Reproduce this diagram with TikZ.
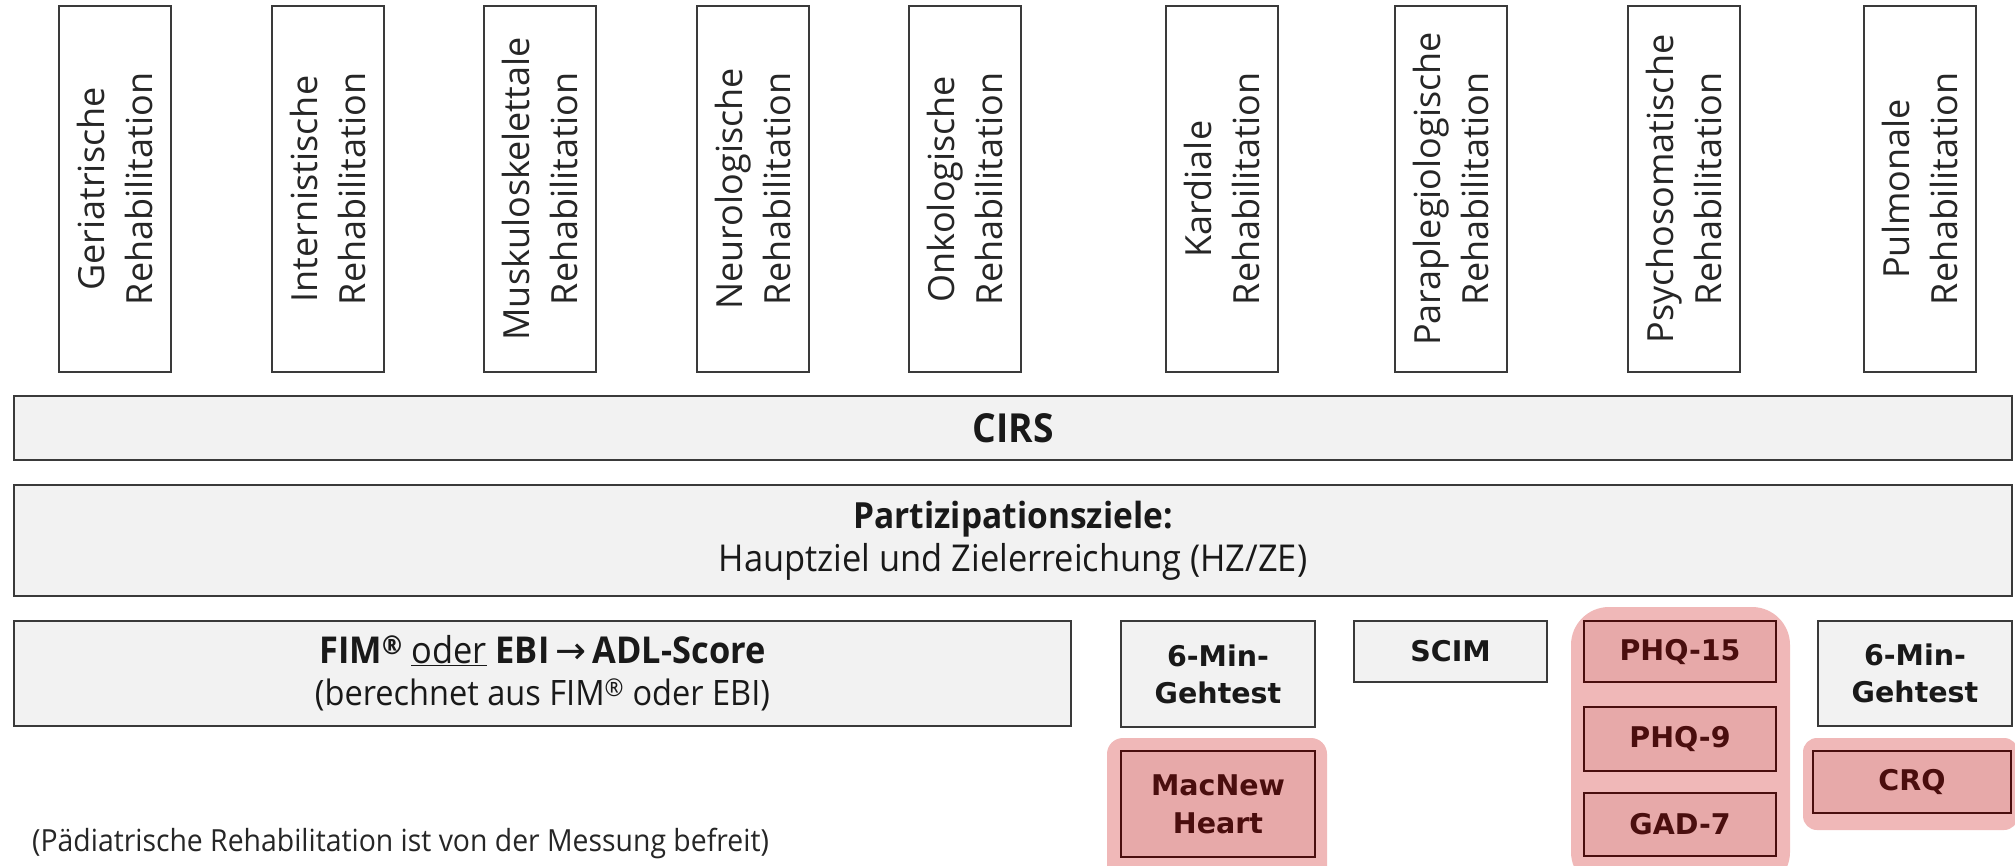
\documentclass[tikz,border=0pt]{standalone}
\usepackage{fontspec}
\setmainfont{Open Sans}
\newfontfamily\lblfont{Open Sans}
\newfontfamily\cndfont{Open Sans}[FakeStretch=0.93]
\newfontfamily\tahfont{DejaVu Sans}
\definecolor{edgegray}{HTML}{3A3A3A}
\definecolor{barfill}{HTML}{F2F2F2}
\definecolor{halopink}{HTML}{F0B8B8}
\definecolor{pinkfill}{HTML}{E7A9A9}
\definecolor{maroon}{HTML}{4A0E0E}
\begin{document}
\begin{tikzpicture}[x=1pt,y=-1pt,
  rehab/.style={draw=edgegray, line width=2pt, fill=white, rotate=90, inner sep=0pt,
    minimum width=366pt, minimum height=112pt, align=center,
    font=\lblfont\fontsize{36}{48}\selectfont, text=black!85},
  bar/.style={draw=edgegray, line width=2.2pt, fill=barfill, inner sep=0pt, align=center,
    text=black!90},
  measure/.style={bar, font=\tahfont\bfseries\fontsize{28.5}{37}\selectfont},
  pinkbox/.style={draw=maroon, line width=1.6pt, fill=pinkfill, inner sep=0pt, align=center,
    text=maroon, font=\tahfont\bfseries\fontsize{28.5}{38}\selectfont},
  halo/.style={fill=halopink, draw=none}
]
\useasboundingbox (0,0) rectangle (2015,865);
\clip (0,0) rectangle (2015,865);
\fill[white] (0,0) rectangle (2015,865);

% rehabilitation fields
\node[rehab] (ger) at (114.5,189) {Geriatrische\\Rehabilitation};
\node[rehab] (int) at (327.5,189) {Internistische\\Rehabilitation};
\node[rehab] (msk) at (540,189) {Muskuloskelettale\\Rehabilitation};
\node[rehab] (neu) at (753,189) {Neurologische\\Rehabilitation};
\node[rehab] (onk) at (965,189) {Onkologische\\Rehabilitation};
\node[rehab] (kar) at (1221.5,189) {Kardiale\\Rehabilitation};
\node[rehab] (par) at (1450.5,189) {Paraplegiologische\\Rehabilitation};
\node[rehab] (psy) at (1684,189) {Psychosomatische\\Rehabilitation};
\node[rehab] (pul) at (1919.5,189) {Pulmonale\\Rehabilitation};

% common instruments
\node[bar, minimum width=1998pt, minimum height=64pt,
  font=\cndfont\bfseries\fontsize{40}{44}\selectfont] (cirs) at (1013,428) {CIRS};
\node[bar, minimum width=1998pt, minimum height=111pt,
  font=\cndfont\fontsize{37}{43}\selectfont] (ziele) at (1013,540.5)
  {{\bfseries\fontsize{36}{43}\selectfont Partizipationsziele:}\\Hauptziel und Zielerreichung (HZ/ZE)};

% highlighted groups
\fill[halo, rounded corners=16pt] (1107,738) rectangle (1327,890);
\fill[halo, rounded corners=38pt] (1571,607) rectangle (1790,890);
\fill[halo, rounded corners=14pt] (1803,738) rectangle (2018,830);

% field specific instruments
\node[bar, minimum width=1057pt, minimum height=105pt,
  font=\cndfont\fontsize{35}{42}\selectfont] (adl) at (542.5,673.5)
  {{\fontsize{37}{42}\selectfont{\bfseries FIM\textsuperscript{®}} \underline{oder} {\bfseries EBI}\,{\tahfont\mdseries →}\,{\bfseries ADL-Score}}\\
   (berechnet aus FIM\textsuperscript{®} oder EBI)};
\node[measure, minimum width=194pt, minimum height=106pt] (gehk) at (1218,674) {6-Min-\\Gehtest};
\node[measure, minimum width=193pt, minimum height=61pt] (scim) at (1450.5,651.5) {SCIM};
\node[pinkbox, minimum width=192pt, minimum height=61pt] (phq15) at (1680,651.5) {PHQ-15};
\node[pinkbox, minimum width=192pt, minimum height=64pt] (phq9) at (1680,739) {PHQ-9};
\node[pinkbox, minimum width=192pt, minimum height=63pt] (gad) at (1680,824.5) {GAD-7};
\node[measure, minimum width=194pt, minimum height=105pt] (gehp) at (1915,673.5) {6-Min-\\Gehtest};
\node[pinkbox, minimum width=194pt, minimum height=106pt] (macnew) at (1218,804) {MacNew\\Heart};
\node[pinkbox, minimum width=198pt, minimum height=62pt] (crq) at (1912,782) {CRQ};

% note
\node[anchor=west, inner sep=0pt, text=black!85, font=\cndfont\fontsize{30.5}{34}\selectfont]
  (note) at (32,843) {(Pädiatrische Rehabilitation ist von der Messung befreit)};
\end{tikzpicture}
\end{document}
